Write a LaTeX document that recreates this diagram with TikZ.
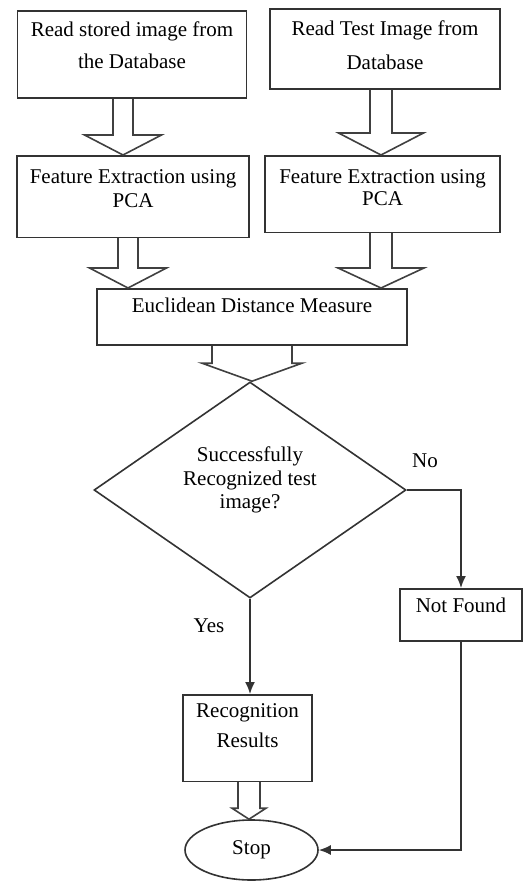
\documentclass[tikz,border=0pt]{standalone}
\usepackage{fontspec}
\setmainfont{Liberation Serif}
\usetikzlibrary{arrows.meta,shapes.geometric,calc}

% open block arrow: source, target, x, half shaft, half head, head length
\newcommand{\hollowarrow}[6]{%
\draw[blk] ({#3-#4},0 |- #1.south) -- ($({#3-#4},0 |- #2.north)+(0,-#6)$) -- ($({#3-#5},0 |- #2.north)+(0,-#6)$) -- (#3,0 |- #2.north) -- ($({#3+#5},0 |- #2.north)+(0,-#6)$) -- ($({#3+#4},0 |- #2.north)+(0,-#6)$) -- ({#3+#4},0 |- #1.south);}

\begin{document}
\begin{tikzpicture}[x=0.5pt,y=-0.5pt,>={Latex[length=6pt,width=5pt]},
  font=\fontsize{10.5}{12.6}\selectfont,
  box/.style={draw=black!80,line width=0.8pt,align=center,anchor=north},
  blk/.style={draw=black!75,line width=0.8pt},
  flow/.style={draw=black!80,line width=0.8pt,->}]
\useasboundingbox (0,0) rectangle (524,881);
\node[box,minimum width=114.5pt,inner ysep=5.3pt,text depth=9.7pt,font=\fontsize{10.5}{16}\selectfont] (r0) at (132,10) {Read stored image from\\the Database};
\node[box,minimum width=115pt,inner ysep=5.8pt,text depth=4.2pt,font=\fontsize{10.5}{17}\selectfont] (r1) at (385,8) {Read Test Image from\\Database};
\node[box,minimum width=116pt,inner ysep=6.8pt,text depth=8.2pt,font=\fontsize{10.5}{12}\selectfont] (f0) at (133,155) {Feature Extraction using\\PCA};
\node[box,minimum width=117.5pt,inner ysep=6.8pt,text depth=6.7pt,font=\fontsize{10.5}{11}\selectfont] (f1) at (382.5,155) {Feature Extraction using\\PCA};
\node[box,minimum width=155pt,inner ysep=4.8pt,text depth=11.2pt] (ed) at (252,288) {Euclidean Distance Measure};
\node[draw=black!80,line width=0.8pt,diamond,shape aspect=1.44,minimum width=156pt,minimum height=108pt,inner sep=0pt,align=center,text depth=12.3pt,font=\fontsize{10.5}{11.75}\selectfont] (q) at (250,490) {Successfully\\Recognized test\\image?};
\node[box,minimum width=61pt,inner ysep=4.8pt,text depth=9.2pt] (nf) at (461,588) {Not Found};
\node[box,minimum width=64.5pt,inner ysep=4.3pt,text depth=12.7pt,font=\fontsize{10.5}{15}\selectfont] (rr) at (247.5,694) {Recognition\\Results};
\node[draw=black!80,line width=0.8pt,ellipse,minimum width=66.5pt,minimum height=30pt,inner sep=0pt] (st) at (251.5,850) {Stop};
\node (yes) at (209,626) {Yes};
\node (no) at (425,461) {No};

\hollowarrow{r0}{f0}{123}{10}{38.5}{20}
\hollowarrow{r1}{f1}{381}{11}{42.5}{22}
\hollowarrow{f0}{ed}{128}{10}{38.5}{20}
\hollowarrow{f1}{ed}{381}{11}{43}{20}
\hollowarrow{ed}{q}{252}{40}{50}{18}
\hollowarrow{rr}{st}{249}{11}{17}{11}

\draw[flow] (q.south) -- (q.south |- rr.north);
\draw[flow] (q.east) -| (nf.north);
\draw[flow] (nf.south) |- (st.east);
\end{tikzpicture}
\end{document}
